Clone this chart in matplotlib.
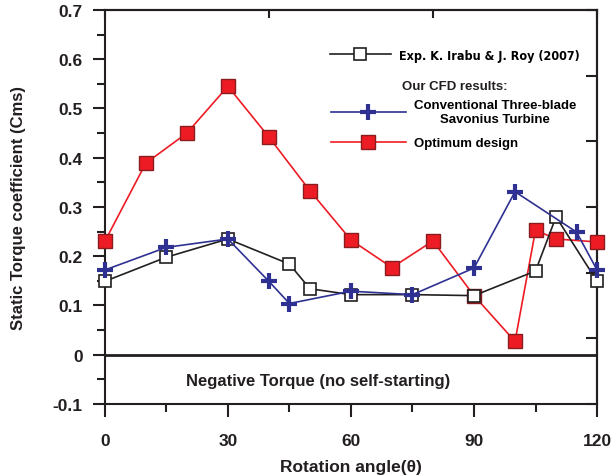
"""Static torque coefficient vs rotation angle for Savonius turbine designs."""

import matplotlib

matplotlib.use("Agg")

import matplotlib.pyplot as plt  # noqa: E402
import numpy as np  # noqa: E402
from matplotlib.ticker import MultipleLocator  # noqa: E402

# Experimental data (K. Irabu & J. Roy, 2007)
exp_angle = [0, 15, 30, 45, 50, 60, 75, 90, 105, 110, 120]
exp_cms = [0.149, 0.198, 0.235, 0.184, 0.134, 0.122, 0.122, 0.120, 0.170, 0.280, 0.149]

# CFD: conventional three-blade Savonius turbine
conv_angle = [0, 15, 30, 40, 45, 60, 75, 90, 100, 115, 120]
conv_cms = [0.172, 0.218, 0.235, 0.149, 0.104, 0.129, 0.122, 0.176, 0.331, 0.249, 0.172]

# CFD: optimum design
opt_angle = [0, 10, 20, 30, 40, 50, 60, 70, 80, 90, 100, 105, 110, 120]
opt_cms = [0.230, 0.389, 0.450, 0.545, 0.442, 0.333, 0.233, 0.177, 0.231, 0.120,
           0.027, 0.253, 0.235, 0.229]

x_ticks = [0, 30, 60, 90, 120]
y_ticks = [-0.1, 0, 0.1, 0.2, 0.3, 0.4, 0.5, 0.6, 0.7]
y_ticklabels = ["-0.1", "0", "0.1", "0.2", "0.3", "0.4", "0.5", "0.6", "0.7"]

plt.rcParams["font.family"] = ["Liberation Sans", "DejaVu Sans"]
plt.rcParams["font.weight"] = "bold"

BLACK = "#231f20"
BLUE = "#2e3192"
RED = "#ed1c24"

fig = plt.figure(figsize=(6.13, 4.77), dpi=100)
ax = fig.add_axes([0.171, 0.151, 0.803, 0.826])

exp_line, = ax.plot(exp_angle, exp_cms, color=BLACK, lw=1.2, marker="s", ms=8.5,
                    mfc="white", mec=BLACK, mew=1.2, zorder=4, clip_on=False)
conv_line, = ax.plot(conv_angle, conv_cms, color=BLUE, lw=1.2, marker="+", ms=12,
                     mew=3, mec=BLUE, zorder=5, clip_on=False)
opt_line, = ax.plot(opt_angle, opt_cms, color=RED, lw=1.2, marker="s", ms=9.5,
                    mfc=RED, mec="#8a1c1f", mew=1.0, zorder=3, clip_on=False)

ax.axhline(0, color=BLACK, lw=2.0, zorder=2)
ax.text(52, -0.053, "Negative Torque (no self-starting)", ha="center", va="center",
        fontsize=12, fontweight="bold", color=BLACK)

ax.set_xlim(0, 120)
ax.set_ylim(-0.1, 0.7)
ax.set_xticks(x_ticks)
ax.set_yticks(y_ticks)
ax.set_yticklabels(y_ticklabels)
ax.xaxis.set_minor_locator(MultipleLocator(15))
ax.yaxis.set_minor_locator(MultipleLocator(0.05))
ax.tick_params(which="major", direction="out", length=9, width=1.5, labelsize=12.5,
               colors=BLACK, pad=7)
ax.tick_params(axis="x", pad=12)
ax.tick_params(which="minor", direction="out", length=6, width=1.5, colors=BLACK)
for lab in ax.get_xticklabels() + ax.get_yticklabels():
    lab.set_fontweight("bold")
for sp in ax.spines.values():
    sp.set_linewidth(1.5)
    sp.set_color(BLACK)

# secondary inward ticks on top and right
top = ax.secondary_xaxis("top")
top.set_xticks([0, 40, 80, 120])
top.tick_params(direction="in", length=6, width=1.5, labeltop=False, colors=BLACK)
top.spines["top"].set_linewidth(1.5)
right = ax.secondary_yaxis("right")
right.set_yticks(np.linspace(-0.1, 0.7, 7))
right.tick_params(direction="in", length=8, width=1.5, labelright=False, colors=BLACK)
right.spines["right"].set_linewidth(1.5)

ax.set_xlabel("Rotation angle(\u03b8)", fontsize=12.5, fontweight="bold", labelpad=8,
              color=BLACK)
ax.set_ylabel("Static Torque coefficient (Cms)", fontsize=12, fontweight="bold",
              labelpad=19, color=BLACK)

leg1 = ax.legend([exp_line], ["Exp. K. Irabu & J. Roy (2007)"], loc="center left",
                 bbox_to_anchor=(0.457, 0.885), frameon=False, handlelength=4.9,
                 handletextpad=0.6, borderpad=0, borderaxespad=0,
                 prop={"family": "DejaVu Sans", "stretch": "condensed",
                       "weight": "bold", "size": 9})
ax.add_artist(leg1)
ax.text(0.604, 0.807, "Our CFD results:", transform=ax.transAxes, ha="left",
        va="center", fontsize=9.5, fontweight="bold", color=BLACK)
leg2 = ax.legend([conv_line, opt_line],
                 ["Conventional Three-blade\nSavonius Turbine", "Optimum design"],
                 loc="center left", bbox_to_anchor=(0.459, 0.71), frameon=False,
                 handlelength=5.7, handletextpad=0.6, borderpad=0, borderaxespad=0,
                 labelspacing=0.9, prop={"weight": "bold", "size": 9.5})
leg2.get_texts()[0].set_multialignment("center")

fig.savefig("out.png", dpi=100)
plt.close(fig)
